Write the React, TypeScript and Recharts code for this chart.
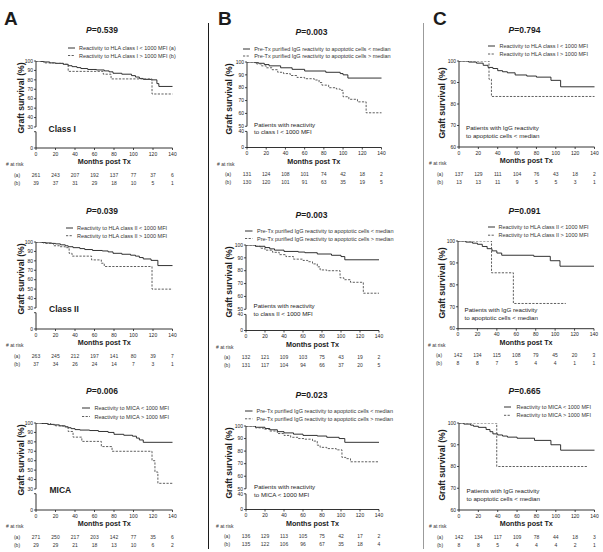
import React from 'react';
import { LineChart, Line, XAxis, YAxis, ReferenceLine, Legend } from 'recharts';

const FONT = '"Liberation Sans", Arial, sans-serif';
const INK = '#1c1c1c';
const GREY = '#4d4d4d';
const DASH = '2.2 1.4';

// chart box around each plot
const YW = 34;
const MT = 4;
const MR = 8;
const XH = 40;

const MONTH_TICKS = [0, 20, 40, 60, 80, 100, 120, 140];

// broken y axes: bottom of the axis is labelled 0
const HLA_TICKS = [7.7, 25, 30, 40, 50, 60, 70, 80, 90, 100];
const HLA_LABELS = ['0', '', '30', '40', '50', '60', '70', '80', '90', '100'];
const IGG_TICKS = [33.5, 46, 50, 60, 70, 80, 90, 100];
const IGG_LABELS = ['0', '40', '50', '60', '70', '80', '90', '100'];
const SUB_TICKS = [60, 70, 80, 90, 100];
const SUB_LABELS = ['60', '70', '80', '90', '100'];

type Pair = [number, number];

// Kaplan-Meier steps: [months post Tx, graft survival %]
const A1_LOW: Pair[] = [[0, 100], [5, 99.5], [8, 99], [14, 98], [20, 97.5], [28, 96.5], [33, 95], [37, 94], [42, 93], [46, 92], [53, 91], [62, 90.5], [70, 89.5], [75, 88.5], [79, 87], [88, 86], [98, 84.5], [102, 83], [106, 81.5], [110, 80.5], [118, 80], [124, 76], [126, 73], [140, 73]];
const A1_HIGH: Pair[] = [[0, 100], [8, 98], [20, 97.5], [28, 96.5], [33, 89], [69, 86], [77, 81], [119, 65], [140, 65]];
const A2_LOW: Pair[] = [[0, 100], [6, 99.5], [10, 99], [16, 98.5], [20, 98], [25, 97], [30, 96], [33, 95], [38, 94], [45, 93], [50, 92], [58, 91], [68, 90.5], [74, 89.5], [79, 88], [88, 87], [97, 86], [102, 85], [106, 83.5], [110, 82], [118, 80.5], [125, 75], [140, 75]];
const A2_HIGH: Pair[] = [[0, 100], [8, 98.5], [18, 96], [24, 95], [30, 94], [34, 88], [37, 85], [57, 81], [67, 77.5], [70, 74], [119, 50], [140, 50]];
const A3_LOW: Pair[] = [[0, 100], [6, 99.5], [12, 98.5], [18, 98], [24, 97], [30, 96], [33, 95], [36, 94], [40, 93], [45, 92.5], [55, 92], [64, 91], [74, 90], [80, 88], [90, 87], [99, 86], [103, 84], [106, 82], [110, 79.5], [140, 79.5]];
const A3_HIGH: Pair[] = [[0, 100], [15, 98.5], [20, 97], [28, 96], [31, 95], [33, 91], [38, 85], [47, 80.5], [67, 75], [78, 70], [119, 60], [122, 48], [125, 36], [140, 36]];

const B1_LOW: Pair[] = [[0, 100], [8, 99.5], [12, 99], [18, 98], [23, 97], [35, 95.5], [47, 94.3], [60, 93], [82, 92], [97, 91], [100, 90], [105, 87.5], [140, 87.5]];
const B1_HIGH: Pair[] = [[0, 100], [10, 98.5], [15, 97], [20, 95.5], [26, 94], [32, 92], [38, 91], [45, 89.5], [52, 88], [60, 87], [70, 86], [75, 84], [78, 82], [85, 80], [93, 79], [97, 78], [100, 73], [106, 71], [115, 69], [124, 60.5], [140, 60.5]];
const B2_LOW: Pair[] = [[0, 100], [10, 99], [20, 98], [25, 97], [30, 96], [40, 95], [55, 94.5], [62, 94], [75, 93], [90, 92], [100, 91], [104, 88.5], [140, 88.5]];
const B2_HIGH: Pair[] = [[0, 100], [10, 99], [15, 97.5], [20, 96], [28, 94.3], [35, 92.5], [42, 91], [50, 89], [60, 88], [65, 87], [70, 85.3], [75, 83], [78, 80.6], [85, 80], [99, 74.5], [103, 73], [110, 71], [123.5, 62.5], [140, 62.5]];
const B3_LOW: Pair[] = [[0, 100], [10, 99], [20, 98], [25, 97], [33, 95.5], [40, 94.5], [50, 93.5], [60, 92.5], [75, 92], [85, 91], [98, 90], [104, 87], [140, 87]];
const B3_HIGH: Pair[] = [[0, 100], [10, 98.5], [18, 97.5], [25, 96], [33, 94], [40, 92.5], [47, 91], [55, 90], [62, 89.5], [70, 88], [75, 84.7], [78, 83], [85, 82], [95, 81], [101, 75], [105, 74], [110, 71.5], [140, 71.5]];

const C1_LOW: Pair[] = [[0, 100], [10, 99.5], [18, 99], [25, 98], [30, 97], [35, 96.5], [40, 95.5], [45, 95], [50, 94.5], [58, 93.5], [70, 93], [80, 92.5], [95, 91], [105, 88], [140, 88]];
const C1_HIGH: Pair[] = [[0, 100], [31, 91.5], [33.5, 83.5], [140, 83.5]];
const C2_LOW: Pair[] = [[0, 100], [8, 99.5], [15, 99], [20, 98.5], [25, 97.5], [30, 96.5], [35, 95.5], [40, 94.5], [45, 93.5], [78, 93], [95, 91], [105, 88.5], [140, 88.5]];
const C2_HIGH: Pair[] = [[0, 100], [34.5, 85.5], [57, 71.5], [111, 71.5]];
const C3_LOW: Pair[] = [[0, 100], [5, 99.5], [12, 99], [15, 98.5], [20, 98], [28, 97], [32, 96], [35, 95], [40, 94.5], [45, 94], [50, 93.5], [60, 93], [78, 92], [95, 90], [105, 87.5], [140, 87.5]];
const C3_HIGH: Pair[] = [[0, 100], [39, 80], [133, 80]];

// numbers at risk, (a) and (b)
const A1_RISK_A = [261, 243, 207, 192, 137, 77, 37, 6];
const A1_RISK_B = [39, 37, 31, 29, 18, 10, 5, 1];
const A2_RISK_A = [263, 245, 212, 197, 141, 80, 39, 7];
const A2_RISK_B = [37, 34, 26, 24, 14, 7, 3, 1];
const A3_RISK_A = [271, 250, 217, 203, 142, 77, 35, 6];
const A3_RISK_B = [29, 29, 21, 18, 13, 10, 6, 2];
const B1_RISK_A = [131, 124, 108, 101, 74, 42, 18, 2];
const B1_RISK_B = [130, 120, 101, 91, 63, 35, 19, 5];
const B2_RISK_A = [132, 121, 109, 103, 75, 43, 19, 2];
const B2_RISK_B = [131, 117, 104, 94, 66, 37, 20, 5];
const B3_RISK_A = [136, 129, 113, 105, 75, 42, 17, 2];
const B3_RISK_B = [135, 122, 106, 96, 67, 35, 18, 4];
const C1_RISK_A = [137, 129, 111, 104, 76, 43, 18, 2];
const C1_RISK_B = [13, 13, 11, 9, 5, 5, 3, 1];
const C2_RISK_A = [142, 134, 115, 108, 79, 45, 20, 3];
const C2_RISK_B = [8, 8, 7, 5, 4, 4, 1, 1];
const C3_RISK_A = [142, 134, 117, 109, 78, 44, 18, 3];
const C3_RISK_B = [8, 8, 5, 4, 4, 4, 2, 1];

const LEG_A1 = ['Reactivity to HLA class I < 1000 MFI (a)', 'Reactivity to HLA class I > 1000 MFI (b)'];
const LEG_I = ['Reactivity to HLA class I < 1000 MFI', 'Reactivity to HLA class I > 1000 MFI'];
const LEG_II = ['Reactivity to HLA class II < 1000 MFI', 'Reactivity to HLA class II > 1000 MFI'];
const LEG_MICA = ['Reactivity to MICA < 1000 MFI', 'Reactivity to MICA > 1000 MFI'];
const LEG_IGG = ['Pre-Tx purified IgG reactivity to apoptotic cells < median', 'Pre-Tx purified IgG reactivity to apoptotic cells > median'];
const NOTE_C = ['Patients with IgG reactivity', 'to apoptotic cells < median'];

interface AxisCfg { ticks: number[]; labels: string[]; pieces: Pair[] }
const AXIS_A: AxisCfg = { ticks: HLA_TICKS, labels: HLA_LABELS, pieces: [[7.7, 25], [30, 100]] };
const AXIS_B: AxisCfg = { ticks: IGG_TICKS, labels: IGG_LABELS, pieces: [[33.5, 46], [50, 100]] };
const AXIS_C: AxisCfg = { ticks: SUB_TICKS, labels: SUB_LABELS, pieces: [[60, 100]] };

interface PanelCfg {
  id: string;
  plot: { l: number; r: number; t: number; b: number };
  axis: AxisCfg;
  low: Pair[];
  high: Pair[];
  names: string[];
  riskA: number[];
  riskB: number[];
  pValue: string;
  title: { x: number; y: number };
  legend: { sx: number; sl: number; tx: number; y: Pair };
  note: { x: number; ys: number[]; lines: string[]; big?: boolean };
  ylabX: number;
  ylabDy: number;
}

const PANELS: PanelCfg[] = [
  { id: 'A1', plot: { l: 36, r: 172.5, t: 61, b: 148 }, axis: AXIS_A, low: A1_LOW, high: A1_HIGH, names: LEG_A1, riskA: A1_RISK_A, riskB: A1_RISK_B, pValue: '0.539', title: { x: 102, y: 30.5 }, legend: { sx: 68, sl: 7, tx: 79, y: [47.5, 55] }, note: { x: 48.5, ys: [129], lines: ['Class I'], big: true }, ylabX: 20.7, ylabDy: 37 },
  { id: 'A2', plot: { l: 36, r: 172.5, t: 242, b: 329 }, axis: AXIS_A, low: A2_LOW, high: A2_HIGH, names: LEG_II, riskA: A2_RISK_A, riskB: A2_RISK_B, pValue: '0.039', title: { x: 102, y: 211 }, legend: { sx: 65.5, sl: 7, tx: 76.5, y: [227.8, 235.5] }, note: { x: 49, ys: [309], lines: ['Class II'], big: true }, ylabX: 20.7, ylabDy: 37 },
  { id: 'A3', plot: { l: 36, r: 172.5, t: 423, b: 510 }, axis: AXIS_A, low: A3_LOW, high: A3_HIGH, names: LEG_MICA, riskA: A3_RISK_A, riskB: A3_RISK_B, pValue: '0.006', title: { x: 102, y: 391 }, legend: { sx: 81.5, sl: 8, tx: 94, y: [408, 416.5] }, note: { x: 49.5, ys: [490.5], lines: ['MICA'], big: true }, ylabX: 20.7, ylabDy: 37 },
  { id: 'B1', plot: { l: 246.5, r: 381, t: 62, b: 147.5 }, axis: AXIS_B, low: B1_LOW, high: B1_HIGH, names: LEG_IGG, riskA: B1_RISK_A, riskB: B1_RISK_B, pValue: '0.003', title: { x: 311.5, y: 32.6 }, legend: { sx: 243, sl: 7, tx: 254.2, y: [48.5, 55.5] }, note: { x: 254, ys: [125, 132.3], lines: ['Patients with reactivity', 'to class I < 1000 MFI'] }, ylabX: 229, ylabDy: 37 },
  { id: 'B2', plot: { l: 246, r: 379, t: 245, b: 330.5 }, axis: AXIS_B, low: B2_LOW, high: B2_HIGH, names: LEG_IGG, riskA: B2_RISK_A, riskB: B2_RISK_B, pValue: '0.003', title: { x: 311.5, y: 215 }, legend: { sx: 244.5, sl: 7.5, tx: 256.5, y: [230.8, 238.3] }, note: { x: 253.5, ys: [306.5, 313.8], lines: ['Patients with reactivity', 'to class II < 1000 MFI'] }, ylabX: 229, ylabDy: 37 },
  { id: 'B3', plot: { l: 246, r: 379, t: 426, b: 509.5 }, axis: AXIS_B, low: B3_LOW, high: B3_HIGH, names: LEG_IGG, riskA: B3_RISK_A, riskB: B3_RISK_B, pValue: '0.023', title: { x: 311.5, y: 395.5 }, legend: { sx: 244.5, sl: 7.5, tx: 256, y: [410.5, 418.3] }, note: { x: 254, ys: [487.5, 494.8], lines: ['Patients with reactivity', 'to MICA < 1000 MFI'] }, ylabX: 229, ylabDy: 37 },
  { id: 'C1', plot: { l: 458.5, r: 594, t: 60.7, b: 146.7 }, axis: AXIS_C, low: C1_LOW, high: C1_HIGH, names: LEG_I, riskA: C1_RISK_A, riskB: C1_RISK_B, pValue: '0.794', title: { x: 524.5, y: 30.5 }, legend: { sx: 488, sl: 7, tx: 499.5, y: [46, 54] }, note: { x: 466, ys: [128.3, 136.2], lines: NOTE_C }, ylabX: 442.3, ylabDy: 42 },
  { id: 'C2', plot: { l: 458, r: 594, t: 241.3, b: 329 }, axis: AXIS_C, low: C2_LOW, high: C2_HIGH, names: LEG_II, riskA: C2_RISK_A, riskB: C2_RISK_B, pValue: '0.091', title: { x: 524.5, y: 211 }, legend: { sx: 487.5, sl: 7, tx: 498, y: [226.8, 235] }, note: { x: 464.5, ys: [310.5, 318.4], lines: NOTE_C }, ylabX: 442.3, ylabDy: 42 },
  { id: 'C3', plot: { l: 458.5, r: 594, t: 423, b: 510 }, axis: AXIS_C, low: C3_LOW, high: C3_HIGH, names: LEG_MICA, riskA: C3_RISK_A, riskB: C3_RISK_B, pValue: '0.665', title: { x: 524.5, y: 391 }, legend: { sx: 503.5, sl: 7, tx: 516, y: [407.2, 415.5] }, note: { x: 466.5, ys: [490.8, 498.9], lines: NOTE_C }, ylabX: 442.3, ylabDy: 42 },
];

const toRows = (pts: Pair[]) => pts.map(([m, s]) => ({ m, s }));

function Txt({ x, y, size, bold, anchor, children }: any) {
  return (
    <div
      style={{
        position: 'absolute',
        left: x,
        top: y - size,
        height: size * 2,
        lineHeight: `${size * 2}px`,
        fontSize: size,
        fontWeight: bold ? 700 : 400,
        whiteSpace: 'nowrap',
        transform: anchor === 'middle' ? 'translateX(-50%)' : undefined,
      }}
    >
      {children}
    </div>
  );
}

const makeTick = (riskA: number[], riskB: number[]) => (props: any) => {
  const { x, y, payload } = props;
  const base = y - 2; // axis line
  const i = MONTH_TICKS.indexOf(payload.value);
  const t = { fontSize: 5, fontFamily: FONT, fill: INK, dominantBaseline: 'central' as const };
  return (
    <g>
      <text x={x} y={base + 5.5} textAnchor="middle" {...t}>{payload.value}</text>
      <text x={x} y={base + 26.5} textAnchor="middle" {...t} fill="#333">{riskA[i]}</text>
      <text x={x} y={base + 34.5} textAnchor="middle" {...t} fill="#333">{riskB[i]}</text>
      {i === 0 && (
        <>
          <text x={x - 30} y={base + 16} textAnchor="start" {...t} fill="#333">{'# at risk'}</text>
          <text x={x - 19} y={base + 26.5} textAnchor="middle" {...t} fill="#333">(a)</text>
          <text x={x - 19} y={base + 34.5} textAnchor="middle" {...t} fill="#333">(b)</text>
        </>
      )}
    </g>
  );
};

const makeLegend = (cfg: PanelCfg) => (props: any) => {
  const items = props.payload || [];
  const { sx, sl, tx, y } = cfg.legend;
  const dy = y[1] - y[0];
  return (
    <svg width={tx - sx + 150} height={dy + 8} style={{ display: 'block', overflow: 'visible' }}>
      {items.map((it: any, i: number) => (
        <g key={i}>
          <line x1={0} x2={sl} y1={4 + i * dy} y2={4 + i * dy} stroke={it.color} strokeWidth={0.9}
            strokeDasharray={it.payload?.strokeDasharray ?? (i === 1 ? DASH : undefined)} />
          <text x={tx - sx} y={4 + i * dy} dominantBaseline="central" fontSize={5.5} fontFamily={FONT} fill="#333">
            {it.value}
          </text>
        </g>
      ))}
    </svg>
  );
};

function Panel({ cfg }: { cfg: PanelCfg }) {
  const { plot, axis } = cfg;
  const plotW = plot.r - plot.l;
  const plotH = plot.b - plot.t;
  const left = plot.l - YW;
  const top = plot.t - MT;
  const width = YW + plotW + MR;
  const height = MT + plotH + XH;
  const lo = axis.ticks[0];

  return (
    <>
      <div style={{ position: 'absolute', left, top }}>
        <LineChart width={width} height={height} margin={{ top: MT, right: MR, bottom: 0, left: 0 }}>
          <XAxis
            dataKey="m"
            type="number"
            domain={[0, 140]}
            ticks={MONTH_TICKS}
            interval={0}
            height={XH}
            axisLine={{ stroke: INK, strokeWidth: 0.9 }}
            tickLine={{ stroke: INK, strokeWidth: 0.8 }}
            tickSize={2}
            tickMargin={0}
            tick={makeTick(cfg.riskA, cfg.riskB)}
          />
          <YAxis
            type="number"
            domain={[lo, 100]}
            allowDataOverflow
            ticks={axis.ticks}
            interval={0}
            width={YW}
            axisLine={false}
            tickLine={{ stroke: INK, strokeWidth: 0.8 }}
            tickSize={2}
            tickMargin={1}
            tick={{ fontSize: 5, fill: INK, fontFamily: FONT }}
            tickFormatter={(v: number) => axis.labels[axis.ticks.indexOf(v)] ?? String(v)}
          />
          {axis.pieces.map(([y0, y1], k) => (
            <ReferenceLine key={k} segment={[{ x: 0, y: y0 }, { x: 0, y: y1 }]} stroke={INK} strokeWidth={0.9} ifOverflow="visible" />
          ))}
          <Legend
            layout="vertical"
            align="center"
            verticalAlign="middle"
            wrapperStyle={{ left: cfg.legend.sx - left, top: cfg.legend.y[0] - 4 - top, width: 'auto', height: 'auto', lineHeight: 0 }}
            content={makeLegend(cfg)}
          />
          <Line data={toRows(cfg.low)} dataKey="s" name={cfg.names[0]} type="stepAfter" stroke={INK} strokeWidth={0.9} dot={false} activeDot={false} isAnimationActive={false} />
          <Line data={toRows(cfg.high)} dataKey="s" name={cfg.names[1]} type="stepAfter" stroke={GREY} strokeWidth={0.9} strokeDasharray={DASH} dot={false} activeDot={false} isAnimationActive={false} />
        </LineChart>
      </div>
      <Txt x={cfg.title.x} y={cfg.title.y} size={8.5} bold anchor="middle">
        <i>P</i>=
        {cfg.pValue}
      </Txt>
      <Txt x={(plot.l + plot.r) / 2} y={plot.b + 14.5} size={7.2} bold anchor="middle">Months post Tx</Txt>
      <div
        style={{
          position: 'absolute',
          left: cfg.ylabX,
          top: plot.t + cfg.ylabDy,
          transform: 'translate(-50%, -50%) rotate(-90deg)',
          fontSize: 8.6,
          fontWeight: 700,
          whiteSpace: 'nowrap',
          lineHeight: '10px',
        }}
      >
        Graft survival (%)
      </div>
      {cfg.note.lines.map((ln, k) => (
        <Txt key={k} x={cfg.note.x} y={cfg.note.ys[k]} size={cfg.note.big ? 8.5 : 6.2} bold={cfg.note.big}>
          {ln}
        </Txt>
      ))}
    </>
  );
}

export default function App() {
  return (
    <div
      style={{
        position: 'absolute',
        left: 0,
        top: 0,
        width: 603,
        height: 552,
        background: '#fff',
        fontFamily: FONT,
        color: INK,
        overflow: 'hidden',
      }}
    >
      {PANELS.map((p) => (
        <Panel key={p.id} cfg={p} />
      ))}
      <Txt x={4} y={18.5} size={19} bold>A</Txt>
      <Txt x={218} y={18.5} size={19} bold>B</Txt>
      <Txt x={433} y={18.5} size={19} bold>C</Txt>
      <div style={{ position: 'absolute', left: 207.5, top: 23, width: 1, height: 526, background: INK }} />
      <div style={{ position: 'absolute', left: 422.5, top: 23, width: 1.5, height: 526, background: '#9b9b9b' }} />
    </div>
  );
}
